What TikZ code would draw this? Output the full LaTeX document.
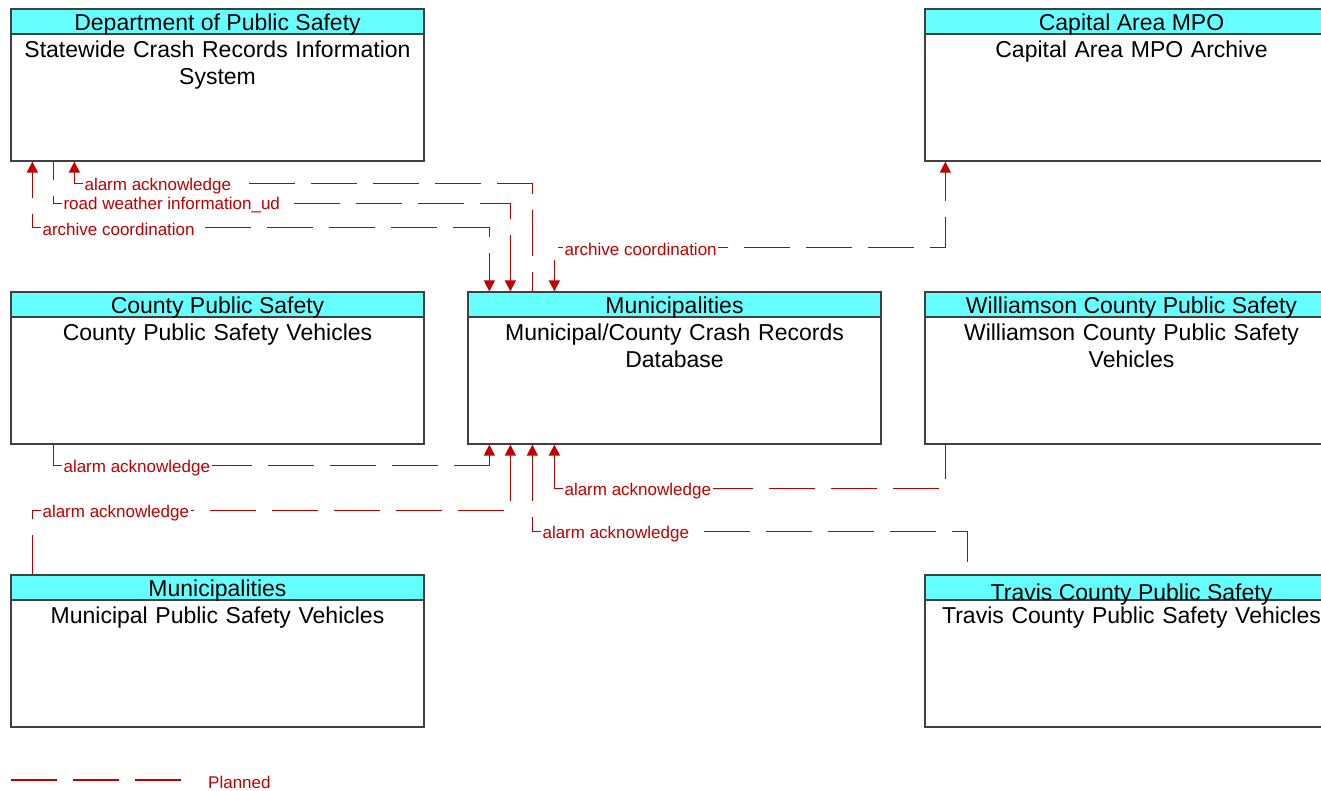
\documentclass[tikz,border=0pt]{standalone}
\usepackage{fontspec}
\setmainfont{Liberation Sans}
\usetikzlibrary{arrows.meta, positioning}
\definecolor{headcyan}{RGB}{102,255,255}
\definecolor{flowred}{RGB}{192,0,0}
\definecolor{boxgray}{RGB}{64,64,64}

\begin{document}
\begin{tikzpicture}[
    x=1pt, y=-1pt,
    sysbox/.style={rectangle, draw=boxgray, line width=1.3pt, minimum width=413pt, minimum height=152pt, inner sep=0pt},
    head/.style={rectangle, draw=boxgray, line width=1.3pt, fill=headcyan, minimum width=413pt, minimum height=25pt, inner sep=0pt, text height=18pt, text depth=0pt, anchor=north, font=\fontsize{23}{27}\selectfont},
    body/.style={anchor=north, text width=405pt, align=center, inner sep=0pt, font=\fontsize{23}{27}\selectfont},
    flow/.style={draw=flowred, line width=1.4pt, dash pattern=on 46pt off 16pt},
    tipin/.style={-{Triangle[length=11pt, width=11pt]}},
    tipout/.style={{Triangle[length=11pt, width=11pt]}-},
    tipboth/.style={{Triangle[length=11pt, width=11pt]}-{Triangle[length=11pt, width=11pt]}},
    lbl/.style={fill=white, text=flowred, inner sep=1.5pt, anchor=west, xshift=8pt, yshift=-2pt, font=\fontsize{17}{20}\selectfont}
]
\useasboundingbox (0,0) rectangle (1321,791);

% Systems
\node[sysbox] (dps) at (217.5,85) {};
\node[head] (dpshead) at (dps.north) {Department of Public Safety};
\node[body] (dpsbody) at ([yshift=-32pt]dps.north) {Statewide Crash Records Information\\System};

\node[sysbox] (mpo) at (1131.5,85) {};
\node[head] (mpohead) at (mpo.north) {Capital Area MPO};
\node[body] (mpobody) at ([yshift=-32pt]mpo.north) {Capital Area MPO Archive};

\node[sysbox] (cps) at (217.5,368) {};
\node[head] (cpshead) at (cps.north) {County Public Safety};
\node[body] (cpsbody) at ([yshift=-32pt]cps.north) {County Public Safety Vehicles};

\node[sysbox] (mun) at (674.5,368) {};
\node[head] (munhead) at (mun.north) {Municipalities};
\node[body] (munbody) at ([yshift=-32pt]mun.north) {Municipal/County Crash Records\\Database};

\node[sysbox] (wil) at (1131.5,368) {};
\node[head] (wilhead) at (wil.north) {Williamson County Public Safety};
\node[body] (wilbody) at ([yshift=-32pt]wil.north) {Williamson County Public Safety\\Vehicles};

\node[sysbox] (mpsv) at (217.5,651) {};
\node[head] (mpsvhead) at (mpsv.north) {Municipalities};
\node[body] (mpsvbody) at ([yshift=-32pt]mpsv.north) {Municipal Public Safety Vehicles};

\node[sysbox] (travis) at (1131.5,651) {};
\node[head] (travishead) at (travis.north) {};
\node[font=\fontsize{23}{27}\selectfont, inner sep=0pt] (travistitle) at ([yshift=-7pt]travishead.center) {Travis County Public Safety};
\node[body] (travisbody) at ([yshift=-32pt]travis.north) {Travis County Public Safety Vehicles};

% Flows above the crash records database
\draw[flow, tipboth, dash phase=20pt] ([xshift=22pt]dps.south west) -- ++(0,66) node[lbl, pos=1] {archive coordination} -| ([xshift=22pt]mun.north west);
\draw[flow, tipout] ([xshift=43pt]mun.north west) -- ++(0,-88) -| ([xshift=43pt]dps.south west) node[lbl, pos=0.5] {road weather information\_ud};
\draw[flow, tipout] ([xshift=64pt]dps.south west) -- ++(0,22) node[lbl, pos=1] {alarm acknowledge} -| ([xshift=65pt]mun.north west);
\draw[flow, tipboth, dash phase=25pt] ([xshift=87pt]mun.north west) -- ++(0,-44) node[lbl, pos=1] {archive coordination} -| ([xshift=21pt]mpo.south west);

% Flows below the crash records database
\draw[flow, tipout] ([xshift=22pt]mun.south west) -- ++(0,21) -| ([xshift=43pt]cps.south west) node[lbl, pos=0.5] {alarm acknowledge};
\draw[flow, tipout] ([xshift=43pt]mun.south west) -- ++(0,66) -| ([xshift=22pt]mpsv.north west) node[lbl, pos=0.5] {alarm acknowledge};
\draw[flow, tipout] ([xshift=87pt]mun.south west) -- ++(0,44) node[lbl, pos=1] {alarm acknowledge} -| ([xshift=21pt]wil.south west);
\draw[flow, tipout] ([xshift=65pt]mun.south west) -- ++(0,87) node[lbl, pos=1] {alarm acknowledge} -| ([xshift=43pt]travis.north west);

% Legend
\coordinate (legstart) at (11,780);
\coordinate (legend) at (181,780);
\draw[flow] (legstart) -- (legend);
\node[text=flowred, anchor=west, inner sep=0pt, font=\fontsize{17}{20}\selectfont] (planned) at (208,782) {Planned};
\end{tikzpicture}
\end{document}
